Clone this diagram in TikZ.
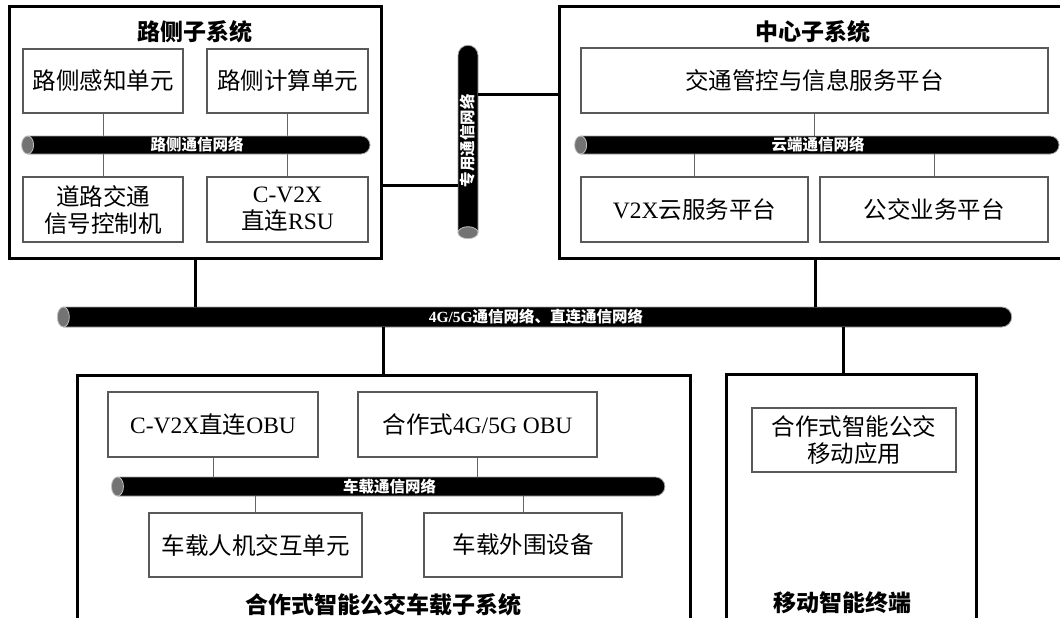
\documentclass[tikz,border=0pt]{standalone}
\usepackage{fontspec}
\setmainfont{Liberation Serif}
\newfontfamily\cjk{Noto Sans CJK SC}
\newfontfamily\lat{Liberation Serif}
\usetikzlibrary{shapes.misc,shapes.geometric}

\tikzset{
  sysbox/.style={draw, line width=3pt, inner sep=0pt},
  unitbox/.style={draw=black!65, line width=1.1pt, fill=white, inner sep=0pt, align=center,
    font=\cjk\fontsize{23.5}{27}\selectfont},
  systitle/.style={inner sep=0pt, font=\cjk\bfseries\fontsize{23}{25}\selectfont},
  netbus/.style={rounded rectangle, rounded rectangle west arc=none, fill=black, draw=black!35,
    line width=.8pt, inner sep=0pt, text=white, font=\cjk\bfseries\fontsize{15.5}{15.5}\selectfont},
  busend/.style={ellipse, fill=black!55, draw=black!25, line width=.8pt, inner sep=0pt, minimum width=12},
  wire/.style={draw=black!60, line width=1pt},
  trunk/.style={draw=black, line width=3pt},
}

\begin{document}
\begin{tikzpicture}[x=1pt,y=-1pt]
	\useasboundingbox (0,0) rectangle (1060,618);
	\clip (0,0) rectangle (1060,618);

	% roadside subsystem
	\node[sysbox, minimum width=372, minimum height=251] (rsys) at (195,132.5) {};
	\node[systitle] (rtitle) at (195,32) {路侧子系统};
	\node[unitbox, minimum width=160, minimum height=64] (sense) at (103,81) {路侧感知单元};
	\node[unitbox, minimum width=161, minimum height=64] (calc) at (287.5,81) {路侧计算单元};
	\node[unitbox, minimum width=160, minimum height=65] (signal) at (103,209.5) {道路交通\\信号控制机};
	\node[unitbox, minimum width=161, minimum height=65] (rsu) at (287.5,209.5) {{\lat C-V2X}\\直连{\lat RSU}};
	\draw[wire] (sense) -- (signal);
	\draw[wire] (calc) -- (rsu);
	\node[netbus, minimum width=342, minimum height=18] (rbus) at (197,145) {路侧通信网络};
	\node[busend, minimum height=18] (rbusend) at (rbus.west) {};

	% center subsystem
	\node[sysbox, minimum width=512, minimum height=251] (csys) at (815,132.5) {};
	\node[systitle] (ctitle) at (813,32) {中心子系统};
	\node[unitbox, minimum width=467, minimum height=65] (mgmt) at (814.5,80.5) {交通管控与信息服务平台};
	\node[unitbox, minimum width=227, minimum height=65] (v2x) at (694.5,209.5) {{\lat V2X}云服务平台};
	\node[unitbox, minimum width=228, minimum height=65] (busops) at (934,209.5) {公交业务平台};
	\node[netbus, minimum width=478, minimum height=18] (cbus) at (818,145) {云端通信网络};
	\node[busend, minimum height=18] (cbusend) at (cbus.west) {};
	\draw[wire] (mgmt.south) -- (mgmt.south |- cbus.north);
	\draw[wire] (v2x.north) -- (v2x.north |- cbus.south);
	\draw[wire] (busops.north) -- (busops.north |- cbus.south);

	% private network between them
	\node[netbus, rotate=90, minimum width=187, minimum height=20] (pbus) at (468,140.5) {专用通信网络};
	\node[busend, rotate=90, minimum height=20] (pbusend) at (pbus.west) {};
	\draw[trunk] (rsys.east |- 0,185) -- (pbus.north |- 0,185);
	\draw[trunk] (pbus.south |- 0,94) -- (csys.west |- 0,94);

	% 4G/5G and direct network
	\node[netbus, minimum width=948, minimum height=20] (mbus) at (536,317) {{\lat 4G/5G}通信网络、直连通信网络};
	\node[busend, minimum height=20] (mbusend) at (mbus.west) {};

	% on-board subsystem
	\node[sysbox, minimum width=613, minimum height=270] (vsys) at (383.5,510) {};
	\node[unitbox, minimum width=210, minimum height=65] (dobu) at (213,424.5) {{\lat C-V2X}直连{\lat OBU}};
	\node[unitbox, minimum width=239, minimum height=65] (cobu) at (477.5,424.5) {合作式{\lat 4G/5G OBU}};
	\node[unitbox, minimum width=213, minimum height=64] (hmi) at (255.5,545) {车载人机交互单元};
	\node[unitbox, minimum width=198, minimum height=64] (periph) at (523,545) {车载外围设备};
	\node[netbus, minimum width=547, minimum height=19] (vbus) at (389.5,486.5) {车载通信网络};
	\node[busend, minimum height=19] (vbusend) at (vbus.west) {};
	\draw[wire] (dobu.south) -- (dobu.south |- vbus.north);
	\draw[wire] (cobu.south) -- (cobu.south |- vbus.north);
	\draw[wire] (hmi.north) -- (hmi.north |- vbus.south);
	\draw[wire] (periph.north) -- (periph.north |- vbus.south);
	\node[systitle] (vtitle) at (383,605) {合作式智能公交车载子系统};

	% mobile terminal
	\node[sysbox, minimum width=250, minimum height=270] (msys) at (851,509) {};
	\node[unitbox, minimum width=204, minimum height=64] (app) at (854,440) {合作式智能公交\\移动应用};
	\node[systitle] (mtitle) at (842,603) {移动智能终端};

	% links to the main network
	\draw[trunk] (rsys.south) -- (rsys.south |- mbus.north);
	\draw[trunk] (csys.south) -- (csys.south |- mbus.north);
	\draw[trunk] (vsys.north) -- (vsys.north |- mbus.south);
	\draw[trunk] (mbus.south -| 843,0) -- (msys.north -| 843,0);
\end{tikzpicture}
\end{document}
